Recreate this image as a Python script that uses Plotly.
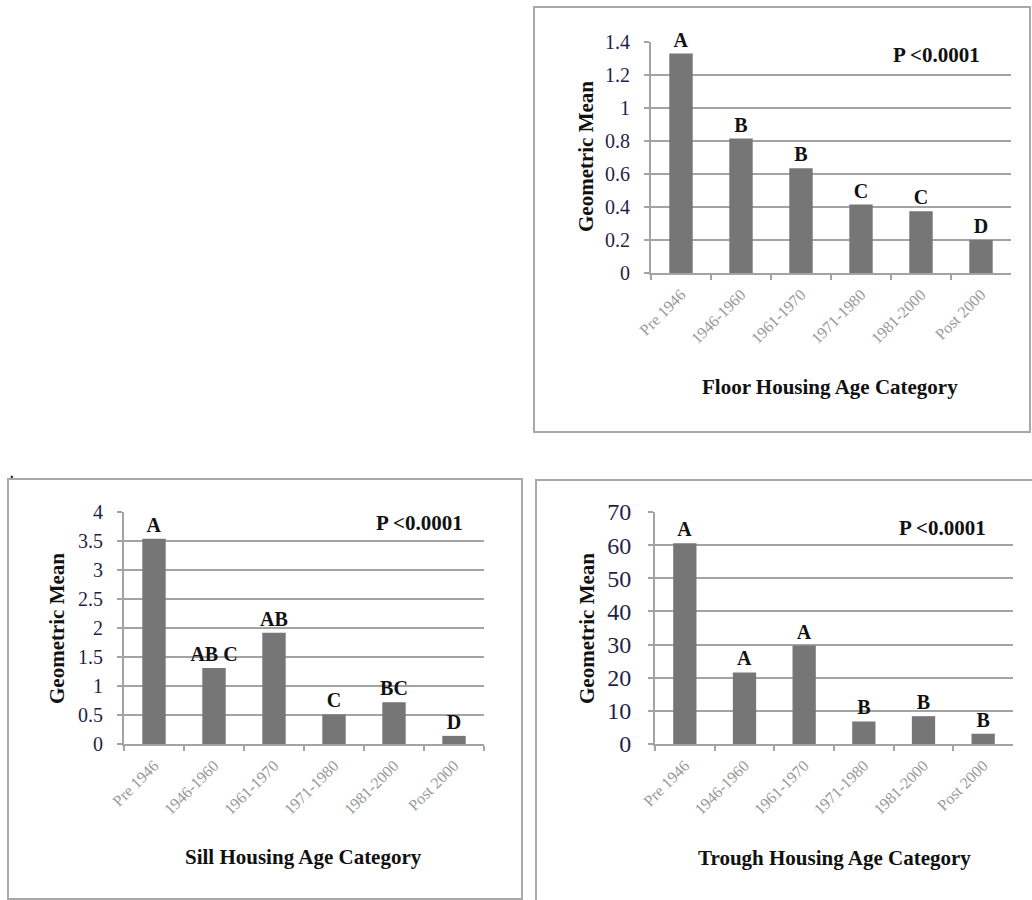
import plotly.graph_objects as go

W, H = 1032, 900

categories = ["Pre 1946", "1946-1960", "1961-1970", "1971-1980", "1981-2000", "Post 2000"]

floor_values = [1.33, 0.815, 0.635, 0.415, 0.375, 0.20]
floor_letters = ["A", "B", "B", "C", "C", "D"]

sill_values = [3.54, 1.31, 1.92, 0.51, 0.72, 0.14]
sill_letters = ["A", "AB C", "AB", "C", "BC", "D"]

trough_values = [60.6, 21.6, 29.7, 6.8, 8.4, 3.1]
trough_letters = ["A", "A", "A", "B", "B", "B"]

p_text = "P <0.0001"
y_title = "Geometric Mean"
x_titles = ["Floor Housing Age Category", "Sill Housing Age Category", "Trough Housing Age Category"]
y_ranges = [[0, 1.4], [0, 4], [0, 70]]
y_dticks = [0.2, 0.5, 10]

BAR = "#767676"
GRID = "#a3a3a3"
SERIF = "Liberation Serif, Times New Roman, serif"

def px(x):
    return x / W

def py(y):
    return 1 - y / H

# plot areas in pixels: (x0, x1, ytop, ybottom)
areas = [(651, 1011, 42, 273), (124, 484, 512, 744), (655, 1013, 512, 744)]
ptext_pos = [(936, 55), (419, 523), (942, 528)]
xtitle_pos = [(830, 387), (303, 857), (834, 858)]
ytitle_pos = [(586, 157), (57, 629), (587, 629)]
tick_sizes = [20, 20, 24]
tick_standoff = [10, 10, 12]

fig = go.Figure()
series = [(floor_values, floor_letters), (sill_values, sill_letters), (trough_values, trough_letters)]

for i, ((vals, letters), (x0, x1, yt, yb)) in enumerate(zip(series, areas)):
    ax = "" if i == 0 else str(i + 1)
    fig.add_trace(go.Bar(
        x=categories, y=vals, text=["<b>%s</b>" % t for t in letters], textposition="outside",
        textfont=dict(family=SERIF, size=20, color="#111111"), constraintext="none",
        marker=dict(color=BAR, line=dict(width=0)),
        cliponaxis=False, xaxis="x" + ax, yaxis="y" + ax, showlegend=False,
        hoverinfo="x+y",
    ))
    fig.layout["xaxis" + ax] = dict(
        domain=[px(x0), px(x1)], anchor="y" + ax, type="category", automargin=False,
        tickangle=-45, tickfont=dict(family=SERIF, size=16, color="#999999"),
        ticklabelstandoff=4,
        showline=True, linecolor=GRID, linewidth=2, ticks="outside",
        tickson="boundaries", ticklen=5, tickcolor=GRID, tickwidth=2,
        showgrid=False, zeroline=False,
    )
    fig.layout["yaxis" + ax] = dict(
        domain=[py(yb), py(yt)], anchor="x" + ax, range=y_ranges[i], automargin=False,
        dtick=y_dticks[i], tick0=0, ticklabelstandoff=tick_standoff[i],
        tickfont=dict(family=SERIF, size=tick_sizes[i], color="#1f1f48"),
        showline=True, linecolor=GRID, linewidth=2, ticks="outside",
        ticklen=5, tickcolor=GRID, tickwidth=2,
        showgrid=True, gridcolor=GRID, gridwidth=2, zeroline=False,
    )

annotations = []
for i in range(3):
    annotations.append(dict(x=px(ptext_pos[i][0]), y=py(ptext_pos[i][1]), xref="paper", yref="paper",
                            xanchor="center", yanchor="middle",
                            text="<b>%s</b>" % p_text, showarrow=False,
                            font=dict(family=SERIF, size=21, color="#111111")))
    annotations.append(dict(x=px(xtitle_pos[i][0]), y=py(xtitle_pos[i][1]), xref="paper", yref="paper",
                            xanchor="center", yanchor="middle",
                            text="<b>%s</b>" % x_titles[i], showarrow=False,
                            font=dict(family=SERIF, size=21, color="#111111")))
    annotations.append(dict(x=px(ytitle_pos[i][0]), y=py(ytitle_pos[i][1]), xref="paper", yref="paper",
                            xanchor="center", yanchor="middle",
                            text="<b>%s</b>" % y_title, showarrow=False, textangle=-90,
                            font=dict(family=SERIF, size=21, color="#111111")))
annotations.append(dict(x=px(12), y=py(474), xref="paper", yref="paper", text="<b>.</b>",
                        xanchor="center", yanchor="middle",
                        showarrow=False, font=dict(family=SERIF, size=14, color="#111111")))

BOX = "#a8a8a8"
shapes = [
    dict(type="rect", xref="paper", yref="paper", x0=px(534), x1=px(1030), y0=py(432), y1=py(7),
         line=dict(color=BOX, width=2)),
    dict(type="rect", xref="paper", yref="paper", x0=px(8), x1=px(522), y0=py(899), y1=py(479),
         line=dict(color=BOX, width=2)),
    dict(type="rect", xref="paper", yref="paper", x0=px(536), x1=px(1045), y0=py(915), y1=py(480),
         line=dict(color=BOX, width=2)),
]

fig.update_layout(
    width=W, height=H, margin=dict(l=0, r=0, t=0, b=0, autoexpand=False),
    paper_bgcolor="white", plot_bgcolor="white",
    bargap=0.61, annotations=annotations, shapes=shapes,
    font=dict(family=SERIF),
)

fig.write_html("out.html")
